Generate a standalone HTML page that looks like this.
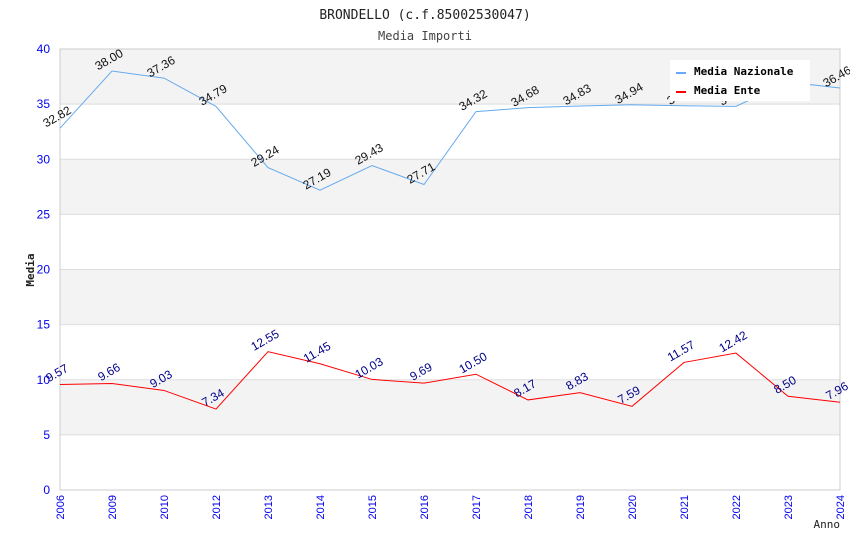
<!DOCTYPE html>
<html><head><meta charset="utf-8"><style>body{margin:0;background:#fff}svg{display:block}</style></head>
<body>
<svg id="chart" width="850" height="550" xmlns="http://www.w3.org/2000/svg">
<text x="425" y="19" text-anchor="middle" font-family="DejaVu Sans Mono, monospace" font-size="13" fill="#222">BRONDELLO (c.f.85002530047)</text>
<text x="425" y="40" text-anchor="middle" font-family="DejaVu Sans Mono, monospace" font-size="12" fill="#444">Media Importi</text>
<g id="bands"></g>
<g id="grid"></g>
<g id="axes"></g>
<g id="series"></g>
<g id="labels"></g>
<text x="34" y="270" transform="rotate(-90 34 270)" text-anchor="middle" font-family="DejaVu Sans Mono, monospace" font-size="11" font-weight="bold" fill="#222">Media</text>
<text x="840" y="528" text-anchor="end" font-family="DejaVu Sans Mono, monospace" font-size="11" fill="#222">Anno</text>
<g>
<rect x="670" y="60" width="140" height="41" fill="#fff"/>
<line x1="676" y1="73" x2="686" y2="73" stroke="#66aaff" stroke-width="2"/>
<text x="694" y="75" font-family="DejaVu Sans Mono, monospace" font-size="11" font-weight="bold" fill="#000">Media Nazionale</text>
<line x1="676" y1="92" x2="686" y2="92" stroke="#ff0000" stroke-width="2"/>
<text x="694" y="94" font-family="DejaVu Sans Mono, monospace" font-size="11" font-weight="bold" fill="#000">Media Ente</text>
</g>
</svg>
<script>
const categories=["2006","2009","2010","2012","2013","2014","2015","2016","2017","2018","2019","2020","2021","2022","2023","2024"];
const nazionale=[32.82,38.00,37.36,34.79,29.24,27.19,29.43,27.71,34.32,34.68,34.83,34.94,34.85,34.80,37.00,36.46];
const ente=[9.57,9.66,9.03,7.34,12.55,11.45,10.03,9.69,10.50,8.17,8.83,7.59,11.57,12.42,8.50,7.96];
const yTicks=[0,5,10,15,20,25,30,35,40];
const NS="http://www.w3.org/2000/svg";
const L=60,R=840,T=49,B=490;
const xs=i=>L+i*(R-L)/(categories.length-1);
const ys=v=>B-(v/40)*(B-T);
function mk(p,tag,a){const e=document.createElementNS(NS,tag);for(const k in a)e.setAttribute(k,a[k]);document.getElementById(p).appendChild(e);return e;}
for(let i=0;i<yTicks.length-1;i++){
 const y0=ys(yTicks[i]),y1=ys(yTicks[i+1]);
 const r=mk("bands","rect",{x:L,y:y1,width:R-L,height:y0-y1,fill:(i%2==1)?"#f3f3f3":"#fff"});
 
 
}
yTicks.forEach(v=>{
 const g=mk("grid","line",{x1:L,x2:R,y1:ys(v),y2:ys(v),stroke:"#ddd","stroke-width":1});
 
 
 const t=mk("axes","text",{x:L-10,y:ys(v)+4,"text-anchor":"end","font-family":"Liberation Sans, sans-serif","font-size":12,fill:"#0000ee"});
 t.textContent=v;
 
 
});
mk("axes","rect",{x:L,y:T,width:R-L,height:B-T,fill:"none",stroke:"#ccc"});
categories.forEach((c,i)=>{
 const x=xs(i);
 const t=mk("axes","text",{x:x+4,y:B+5,transform:`rotate(-90 ${x+4} ${B+5})`,"text-anchor":"end","font-family":"Liberation Sans, sans-serif","font-size":11,fill:"#0000ee"});
 t.textContent=c;
 
 
});
function series(data,color,lab,name){
 const p=mk("series","polyline",{points:data.map((v,i)=>xs(i)+","+ys(v)).join(" "),fill:"none",stroke:color,"stroke-width":1});
 
 
 data.forEach((v,i)=>{
  const x=xs(i)-1,y=ys(v)-8;
  const t=mk("labels","text",{x:x,y:y,transform:`rotate(-30 ${x} ${y})`,"text-anchor":"middle","font-family":"Liberation Sans, sans-serif","font-size":12,fill:lab});
  t.textContent=v.toFixed(2);
  
  
 });
}
series(nazionale,"#66aaee","#111","nazionale");
series(ente,"#ff0000","#000088","ente");
</script>
</body></html>
